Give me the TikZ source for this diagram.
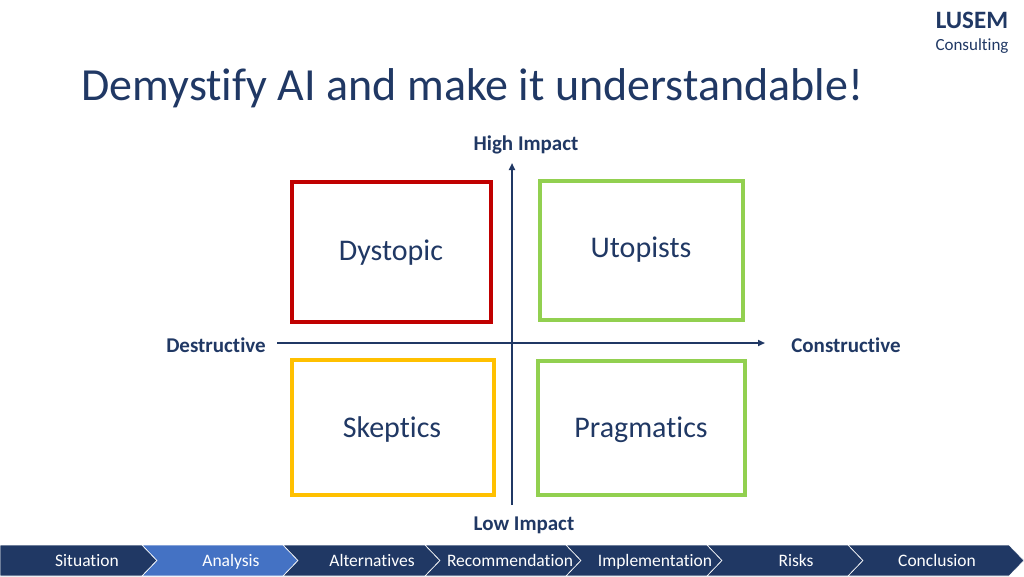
\documentclass[tikz,border=0pt]{standalone}
\usepackage{fontspec}
\setmainfont{Carlito}[Ligatures={NoCommon}]
\usetikzlibrary{arrows.meta}
\definecolor{navy}{HTML}{203864}
\definecolor{stepblue}{HTML}{4472C4}
\definecolor{badred}{HTML}{C00000}
\definecolor{goodgreen}{HTML}{92D050}
\definecolor{warnyellow}{HTML}{FFC000}
\begin{document}
\begin{tikzpicture}[x=1pt,y=-1pt]
\useasboundingbox (0,0) rectangle (1024,576);
\tikzset{
  quad/.style={font=\fontsize{30}{32}\selectfont,text=navy},
  axislabel/.style={font=\fontsize{21}{23}\selectfont\bfseries,text=navy},
  steplabel/.style={anchor=base,font=\fontsize{17.5}{19}\selectfont,text=white},
}
% header
\node[anchor=base west,font=\fontsize{46}{48}\selectfont,text=navy] (T) at (78,100) {Demystify AI and make it understandable!};
\node[font=\fontsize{25}{27}\selectfont\bfseries,text=navy] (L) at (972,20) {LUSEM};
\node[font=\fontsize{17}{19}\selectfont,text=navy] (K) at (972,46) {Consulting};
% quadrants
\draw[badred,line width=4pt] (292,182) rectangle (491,322);
\draw[goodgreen,line width=4pt] (540,181) rectangle (743,320);
\draw[warnyellow,line width=4pt] (292,360) rectangle (494,495);
\draw[goodgreen,line width=4pt] (538,361) rectangle (745,495);
\node[quad] (D) at (391,253) {Dystopic};
\node[quad] (U) at (641,250) {Utopists};
\node[quad] (S) at (392,429) {Skeptics};
\node[quad] (P) at (641,430) {Pragmatics};
% axes
\coordinate (yb) at (512,505);
\coordinate (yt) at (512,163);
\coordinate (xl) at (277,343);
\coordinate (xr) at (765,343);
\draw[navy,line width=2pt,-{Triangle[length=7pt,width=6pt]}] (yb)--(yt);
\draw[navy,line width=2pt,-{Triangle[length=7pt,width=6pt]}] (xl)--(xr);
\node[axislabel] (HI) at (526,145) {High Impact};
\node[axislabel] (LI) at (524,525) {Low Impact};
\node[axislabel] (DE) at (216,345) {Destructive};
\node[axislabel] (CO) at (846,345) {Constructive};
% bottom bar
\fill[navy,draw=white,line width=0.6pt] (0,545)--(142,545)--(157,560.5)--(142,576)--(0,576)--cycle;
\foreach \a/\b/\c in {142/283/stepblue,283/425/navy,425/566/navy,566/707/navy,707/848/navy,848/1009/navy}
  \fill[\c,draw=white,line width=0.6pt] (\a,545)--(\b,545)--(\b+15,560.5)--(\b,576)--(\a,576)--(\a+15,560.5)--cycle;
\node[steplabel] (B1) at (87,566) {Situation};
\node[steplabel] (B2) at (231,566) {Analysis};
\node[steplabel] (B3) at (372,566) {Alternatives};
\node[steplabel] (B4) at (510,566) {Recommendation};
\node[steplabel] (B5) at (655,566) {Implementation};
\node[steplabel] (B6) at (796,566) {Risks};
\node[steplabel] (B7) at (937,566) {Conclusion};
\end{tikzpicture}
\end{document}
